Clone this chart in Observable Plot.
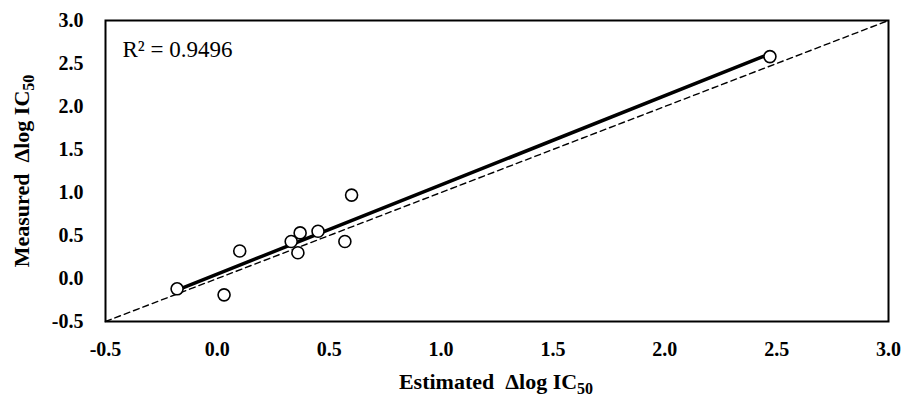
<!DOCTYPE html>
<html>
<head>
<meta charset="utf-8">
<script src="https://cdn.jsdelivr.net/npm/d3@7"></script>
<script src="https://cdn.jsdelivr.net/npm/@observablehq/plot@0.6"></script>
<style>
  html, body { margin: 0; padding: 0; background: #fff; }
  #chart svg { display: block; }
</style>
</head>
<body>
<div id="chart"></div>
<script>
const estimated = [-0.18, 0.03, 0.10, 0.33, 0.37, 0.36, 0.45, 0.57, 0.60, 2.47];
const measured  = [-0.12, -0.19, 0.32, 0.43, 0.53, 0.30, 0.55, 0.43, 0.97, 2.58];
const ticks = [-0.5, 0.0, 0.5, 1.0, 1.5, 2.0, 2.5, 3.0];
const identity = [-0.5, 3.0];
const r2Label = "R² = 0.9496";

const points = estimated.map((x, i) => ({x, y: measured[i]}));
const diag = identity.map(v => ({x: v, y: v}));

const font = "'Liberation Serif', 'Times New Roman', serif";
const fmt = d => d.toFixed(1); // plain hyphen for negatives

const plot = Plot.plot({
  width: 910,
  height: 400,
  marginLeft: 105,
  marginRight: 22,
  marginTop: 20,
  marginBottom: 79,
  style: {fontFamily: font, background: "#fff", color: "#000"},
  x: {domain: [-0.5, 3.0], ticks: ticks, tickFormat: fmt, label: null},
  y: {domain: [-0.5, 3.0], ticks: ticks, tickFormat: fmt, label: null},
  marks: [
    Plot.line(diag, {x: "x", y: "y", stroke: "#000", strokeWidth: 1.4, strokeDasharray: "6,4"}),
    Plot.linearRegressionY(points, {x: "x", y: "y", stroke: "#000", strokeWidth: 3.5, ci: 0}),
    Plot.dot(points, {x: "x", y: "y", r: 6, stroke: "#000", strokeWidth: 1.6, fill: "#fff"}),
    Plot.frame({stroke: "#000", strokeWidth: 2}),
    Plot.axisX({ticks: ticks, tickFormat: fmt, tickSize: 0, tickPadding: 20, fontSize: 20, fontWeight: "bold", label: null}),
    Plot.axisY({ticks: ticks, tickFormat: fmt, tickSize: 0, tickPadding: 22, fontSize: 20, fontWeight: "bold", label: null}),
    Plot.text([r2Label], {frameAnchor: "top-left", dx: 17, dy: 20, fontSize: 23, textAnchor: "start", fill: "#000"})
  ]
});

const svg = d3.select(plot);
svg.selectAll("[aria-label='x-axis tick label'] text, [aria-label='y-axis tick label'] text").attr("fill", "#000");

// Axis titles with subscripts
const xt = svg.append("text")
  .attr("x", 496).attr("y", 389)
  .attr("text-anchor", "middle")
  .attr("font-family", font).attr("font-weight", "bold").attr("font-size", 22).attr("fill", "#000");
xt.append("tspan").text("Estimated  Δlog IC");
xt.append("tspan").text("50").attr("font-size", 16).attr("dy", 5);

const yt = svg.append("text")
  .attr("transform", "translate(29,171) rotate(-90)")
  .attr("text-anchor", "middle")
  .attr("font-family", font).attr("font-weight", "bold").attr("font-size", 22).attr("fill", "#000");
yt.append("tspan").text("Measured  Δlog IC");
yt.append("tspan").text("50").attr("font-size", 16).attr("dy", 5);
svg.selectAll("tspan").style("white-space", "pre");

document.getElementById("chart").appendChild(plot);
</script>
</body>
</html>
